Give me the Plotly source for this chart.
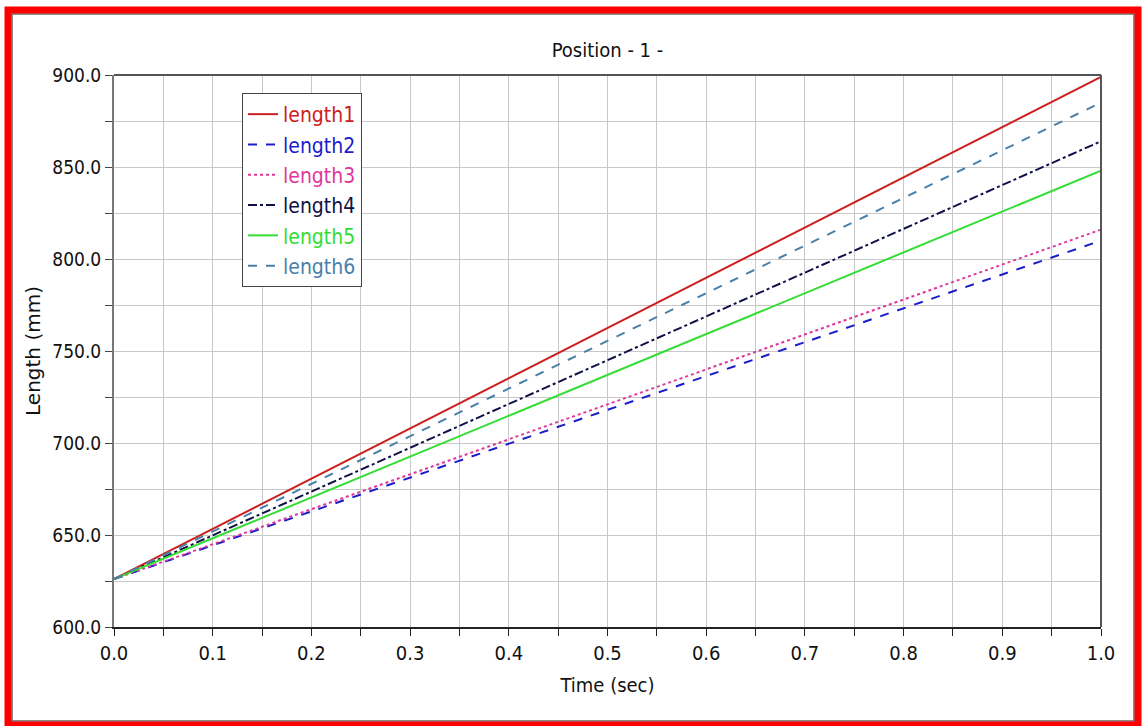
import plotly.graph_objects as go

time = [0.0, 1.0]
names = ["length1", "length2", "length3", "length4", "length5", "length6"]
values = [
    [626.0, 899.0],
    [626.0, 810.0],
    [626.0, 816.0],
    [626.0, 864.0],
    [626.0, 848.0],
    [626.0, 885.0],
]
colors = ["#cc2020", "#1c1ccc", "#e0369c", "#101048", "#33dd33", "#4a80a8"]
dashes = ["solid", "dash", "dot", "dashdot", "solid", "dash"]

NARROW = "DejaVu Sans Condensed, Liberation Sans Narrow, Arial Narrow, Liberation Sans"

fig = go.Figure()
for n, v, c, d in zip(names, values, colors, dashes):
    fig.add_trace(go.Scatter(
        x=time, y=v, mode="lines",
        name=f"<span style='color:{c}'>{n}</span>",
        line=dict(color=c, dash=d, width=2),
    ))

L, R, T, B = 114, 1101, 75, 627
W, H = 1144, 726
def px(x):
    return (x - L) / (R - L)
def py(y):
    return (B - y) / (B - T)

fig.update_layout(
    width=W, height=H,
    margin=dict(l=L, r=W - R, t=T, b=H - B),
    paper_bgcolor="white", plot_bgcolor="white",
    title=dict(text="Position - 1 -", x=0.5, xref="paper", y=1 - 50 / H, yanchor="middle",
               font=dict(family=NARROW, size=20, color="#111")),
    showlegend=True,
    legend=dict(x=px(242), y=py(93), xanchor="left", yanchor="top",
                bgcolor="white", bordercolor="#444", borderwidth=1,
                font=dict(family=NARROW, size=21), tracegroupgap=0,
                itemwidth=30),
    xaxis=dict(range=[0, 1], dtick=0.1, tick0=0, tickformat=".1f",
               showgrid=True, gridcolor="#c8c8c8", gridwidth=1,
               ticks="outside", ticklen=7, tickcolor="#222",
               minor=dict(dtick=0.05, showgrid=True, gridcolor="#c8c8c8", ticks="outside", ticklen=7, tickcolor="#222"),
               showline=True, linecolor="#222", linewidth=2, mirror=False,
               zeroline=False,
               tickfont=dict(family=NARROW, size=20, color="#111"),
               title=dict(text="Time (sec)", font=dict(family=NARROW, size=20, color="#111"), standoff=14)),
    yaxis=dict(range=[600, 900], dtick=50, tick0=600, tickformat=".1f",
               showgrid=True, gridcolor="#c8c8c8", gridwidth=1,
               ticks="outside", ticklen=7, tickcolor="#444",
               minor=dict(dtick=25, showgrid=True, gridcolor="#c8c8c8", ticks="outside", ticklen=7, tickcolor="#444"),
               showline=True, linecolor="#777", linewidth=2, mirror=False,
               zeroline=False,
               tickfont=dict(family=NARROW, size=19, color="#111"),
               title=dict(text="Length (mm)", font=dict(family="DejaVu Sans, Verdana", size=20, color="#111"), standoff=6)),
    shapes=[
        dict(type="line", xref="paper", yref="paper", x0=0, x1=1, y0=1, y1=1, line=dict(color="#555", width=2)),
        dict(type="line", xref="paper", yref="paper", x0=1, x1=1, y0=0, y1=1, line=dict(color="#555", width=2)),
        dict(type="rect", xref="paper", yref="paper", x0=px(12), x1=px(1134), y0=py(14), y1=py(721),
             line=dict(color="#666", width=1.5)),
        dict(type="rect", xref="paper", yref="paper", x0=px(8), x1=px(1138), y0=py(10), y1=py(725),
             line=dict(color="#ff0000", width=7)),
    ],
)

fig.write_html("out.html", config={"displayModeBar": False},
               post_script="document.body.style.margin='0';document.body.style.overflow='hidden';")
